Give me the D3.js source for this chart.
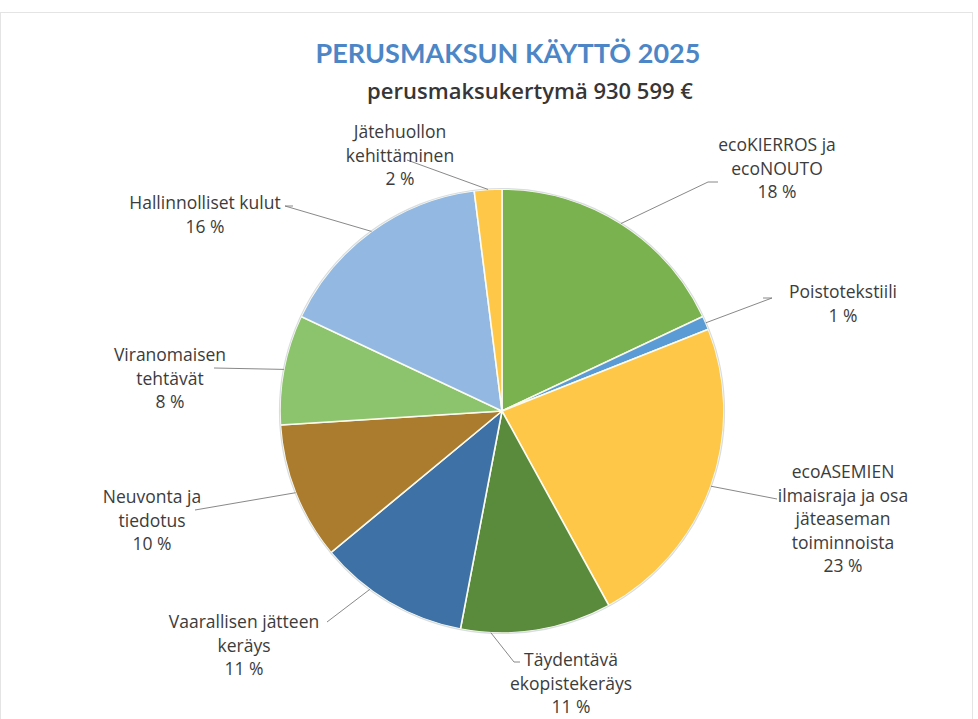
<!DOCTYPE html>
<html>
<head>
<meta charset="utf-8">
<script src="https://cdn.jsdelivr.net/npm/d3@7"></script>
<style>
body { margin: 0; background: #fff; }
</style>
</head>
<body>
<div id="chart"></div>
<script>
// slices, clockwise from 12 o'clock
const categories = [
  ["ecoKIERROS ja", "ecoNOUTO"],
  ["Poistotekstiili"],
  ["ecoASEMIEN", "ilmaisraja ja osa", "jäteaseman", "toiminnoista"],
  ["Täydentävä", "ekopistekeräys"],
  ["Vaarallisen jätteen", "keräys"],
  ["Neuvonta ja", "tiedotus"],
  ["Viranomaisen", "tehtävät"],
  ["Hallinnolliset kulut"],
  ["Jätehuollon", "kehittäminen"]
]
const shares = [18, 1, 23, 11, 11, 10, 8, 16, 2]
const colors = ["#79b24f", "#5b9bd5", "#fec748", "#5a8a3b", "#3e72a6", "#ab7b2e", "#8cc46d", "#93b9e3", "#fec748"]

const title = "PERUSMAKSUN KÄYTTÖ 2025"
const subtitle = "perusmaksukertymä 930 599 €"

// label layout: text centre x, first line y, leader end, hook, anchor within slice
const labelLayout = [
  {x: 777, y: 151, lx: 708, ly: 182, hook: 10, t: 0.5},
  {x: 843, y: 298, lx: 772, ly: 298, hook: -9, t: 0.5},
  {x: 843, y: 478, lx: 777, ly: 499, hook: 0, t: 0.5},
  {x: 571, y: 666, lx: 514, ly: 662, hook: 6, t: 0.8},
  {x: 244, y: 628, lx: 327, ly: 622, hook: 0, t: 0.65},
  {x: 152, y: 503, lx: 195, ly: 510, hook: 0, t: 0.5},
  {x: 170, y: 361, lx: 214, ly: 368, hook: 0, t: 0.5},
  {x: 205, y: 209, lx: 285, ly: 206, hook: 8, t: 0.5},
  {x: 400, y: 138, lx: 407, ly: 160, hook: 0, t: 0.5}
]

var width = 978, height = 719
var cx = 502, cy = 411, radius = 222
var lineH = 23.5

var svg = d3.select("#chart").append("svg")
    .attr("width", width)
    .attr("height", height)

svg.append("rect")
    .attr("x", 0.5).attr("y", 12.5)
    .attr("width", 972).attr("height", 720)
    .attr("fill", "none")
    .attr("stroke", "#e4e4e4")

svg.append("text")
    .attr("x", 508).attr("y", 63)
    .attr("text-anchor", "middle")
    .attr("font-family", "Lato, 'Open Sans', sans-serif")
    .attr("font-weight", "bold")
    .attr("font-size", 27)
    .attr("fill", "#4d86c6")
    .text(title)

svg.append("text")
    .attr("x", 530).attr("y", 99)
    .attr("text-anchor", "middle")
    .attr("font-family", "'Open Sans', sans-serif")
    .attr("font-weight", 600)
    .attr("font-size", 22)
    .attr("fill", "#363636")
    .text(subtitle)

var pie = d3.pie().sort(null).value(function(d) { return d; })
var arcs = pie(shares)

var arc = d3.arc().innerRadius(0).outerRadius(radius)

var g = svg.append("g").attr("transform", "translate(" + cx + "," + cy + ")")

g.selectAll("path.slice")
    .data(arcs)
  .enter().append("path")
    .attr("class", "slice")
    .attr("d", arc)
    .attr("fill", function(d, i) { return colors[i]; })
    .attr("stroke", "#fbfbf0")
    .attr("stroke-width", 1.6)

g.append("circle")
    .attr("r", radius + 0.5)
    .attr("fill", "none")
    .attr("stroke", "#d8dde0")
    .attr("stroke-width", 1.2)

// leader lines
arcs.forEach(function(d, i) {
  let L = labelLayout[i]
  let a = d.startAngle + (d.endAngle - d.startAngle) * L.t
  let sx = cx + radius * Math.sin(a)
  let sy = cy - radius * Math.cos(a)
  let pts = [[sx, sy], [L.lx, L.ly]]
  if (L.hook) pts.push([L.lx + L.hook, L.ly])
  svg.append("path")
      .attr("d", d3.line()(pts))
      .attr("fill", "none")
      .attr("stroke", "#7a7a7a")
      .attr("stroke-width", 0.9)
})

// labels
arcs.forEach(function(d, i) {
  let L = labelLayout[i]
  let lines = categories[i].concat([shares[i] + " %"])
  let t = svg.append("text")
      .attr("text-anchor", "middle")
      .attr("font-family", "'Open Sans', sans-serif")
      .attr("font-size", 17.5)
      .attr("fill", "#3c3c3c")
  lines.forEach(function(s, k) {
    t.append("tspan")
        .attr("x", L.x)
        .attr("y", L.y + k * lineH)
        .text(s)
  })
})
</script>
</body>
</html>
